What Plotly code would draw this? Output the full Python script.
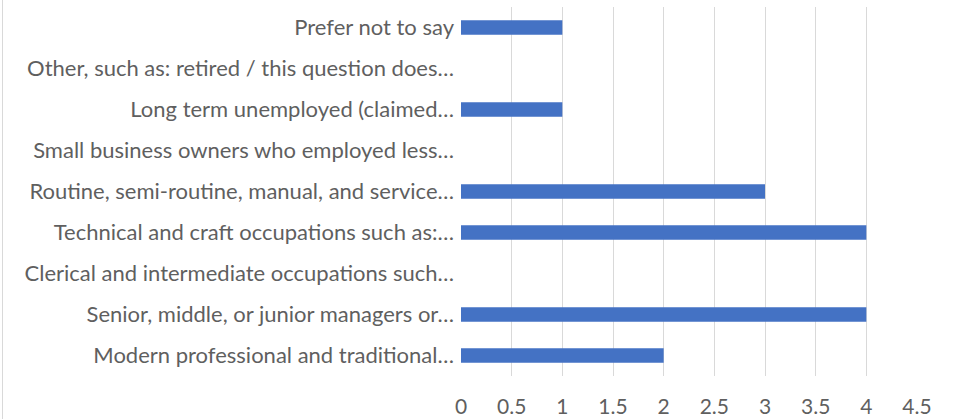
import plotly.graph_objects as go

categories = [
    "Modern professional and traditional…",
    "Senior, middle, or junior managers or…",
    "Clerical and intermediate occupations such…",
    "Technical and craft occupations such as:…",
    "Routine, semi-routine, manual, and service…",
    "Small business owners who employed less…",
    "Long term unemployed (claimed…",
    "Other, such as: retired / this question does…",
    "Prefer not to say",
]
values = [2, 4, 0, 4, 3, 0, 1, 0, 1]
x_ticks = [0, 0.5, 1, 1.5, 2, 2.5, 3, 3.5, 4, 4.5]
x_tick_labels = ["0", "0.5", "1", "1.5", "2", "2.5", "3", "3.5", "4", "4.5"]

W, H = 953, 419
L, R, T, B = 461, 36, 7, 43

fig = go.Figure(go.Bar(
    x=values, y=categories, orientation="h",
    marker=dict(color="#4472C4", line=dict(width=0)),
    width=0.35,
))

fig.update_layout(
    width=W, height=H,
    margin=dict(l=L, r=R, t=T, b=B, pad=0),
    paper_bgcolor="white", plot_bgcolor="white",
    font=dict(family="Lato", size=22, color="#5f5f5f"),
    showlegend=False,
    xaxis=dict(
        range=[0, 4.5], tickvals=x_ticks, ticktext=x_tick_labels,
        tickfont=dict(size=21),
        showgrid=True, gridcolor="#D9D9D9", gridwidth=1.3,
        zeroline=False, showline=False, ticks="",
        ticklabelstandoff=16, automargin=False,
    ),
    yaxis=dict(
        categoryorder="array", categoryarray=categories,
        range=[-0.5, 8.5],
        showgrid=False, zeroline=False, showline=False, ticks="",
        ticklabelstandoff=6, automargin=False,
    ),
    shapes=[dict(
        type="line", xref="paper", yref="paper",
        x0=(2.5 - L) / (W - L - R), x1=(2.5 - L) / (W - L - R),
        y0=-B / (H - T - B), y1=(H - T) / (H - T - B),
        line=dict(color="#D9D9D9", width=1),
    )],
)

fig.write_html(
    "out.html",
    config={"displayModeBar": False},
    post_script="document.body.style.margin='0';document.body.style.overflow='hidden';",
)
